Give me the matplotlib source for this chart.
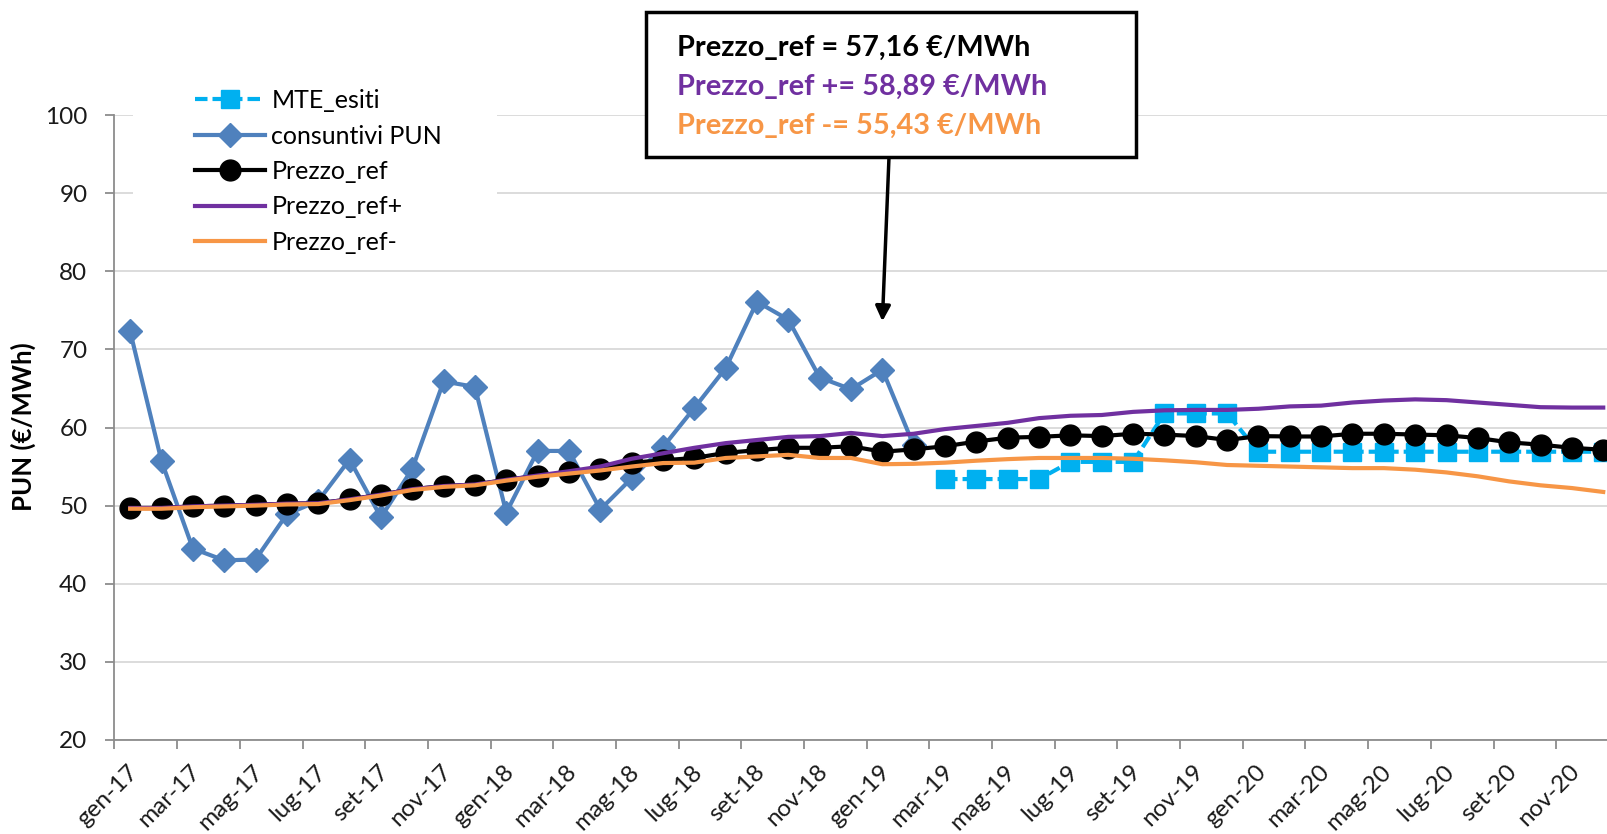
import matplotlib
matplotlib.use("Agg")
import matplotlib.pyplot as plt
from matplotlib.patches import Rectangle
from matplotlib.lines import Line2D
from matplotlib.transforms import ScaledTranslation
import numpy as np

plt.rcParams['font.family'] = ['Lato', 'DejaVu Sans']

# ---------------- data ----------------
mesi = ['gen', 'feb', 'mar', 'apr', 'mag', 'giu', 'lug', 'ago', 'set', 'ott', 'nov', 'dic']
anni = ['17', '18', '19', '20']
categories = [f"{m}-{a}" for a in anni for m in mesi]

consuntivi_pun = [72.3, 55.7, 44.5, 43.0, 43.1, 48.9, 50.6, 55.9, 48.5, 54.7, 65.9, 65.2,
                  49.1, 57.0, 57.0, 49.5, 53.5, 57.5, 62.5, 67.6, 76.1, 73.8, 66.4, 64.9,
                  67.4, 57.7] + [None] * 22

prezzo_ref = [49.7, 49.7, 49.9, 50.0, 50.1, 50.25, 50.3, 50.8, 51.4, 52.1, 52.5, 52.7,
              53.3, 53.8, 54.25, 54.7, 55.5, 55.8, 56.1, 56.75, 57.1, 57.4, 57.4, 57.6,
              56.9, 57.2, 57.6, 58.2, 58.7, 58.8, 59.0, 58.9, 59.2, 59.1, 58.9, 58.4,
              58.9, 58.85, 58.85, 59.2, 59.2, 59.1, 59.0, 58.65, 58.1, 57.8, 57.4, 57.15]

prezzo_ref_plus = [49.7, 49.7, 49.9, 50.0, 50.1, 50.25, 50.3, 50.8, 51.4, 52.1, 52.5, 52.7,
                   53.3, 53.85, 54.4, 55.0, 56.0, 56.7, 57.4, 58.0, 58.4, 58.8, 58.9, 59.3,
                   58.9, 59.2, 59.8, 60.2, 60.6, 61.2, 61.5, 61.6, 62.0, 62.2, 62.25, 62.25,
                   62.4, 62.7, 62.8, 63.2, 63.45, 63.6, 63.5, 63.2, 62.9, 62.6, 62.55, 62.55]

prezzo_ref_minus = [49.6, 49.6, 49.8, 49.9, 50.0, 50.15, 50.2, 50.7, 51.3, 52.0, 52.4, 52.6,
                    53.2, 53.7, 54.1, 54.5, 55.0, 55.45, 55.5, 56.1, 56.3, 56.5, 56.1, 56.1,
                    55.3, 55.35, 55.5, 55.75, 55.95, 56.1, 56.1, 56.1, 56.0, 55.8, 55.55, 55.2,
                    55.1, 55.0, 54.9, 54.8, 54.8, 54.6, 54.25, 53.75, 53.1, 52.6, 52.25, 51.75]

mte_esiti = [None] * 26 + [53.4, 53.4, 53.4, 53.4, 55.6, 55.6, 55.6, 61.8, 61.8, 61.8] + [56.9] * 12

yticks = [20, 30, 40, 50, 60, 70, 80, 90, 100]

annot_lines = ["Prezzo_ref = 57,16 €/MWh",
               "Prezzo_ref += 58,89 €/MWh",
               "Prezzo_ref -= 55,43 €/MWh"]

# ---------------- style ----------------
C_MTE = '#00B0F0'
C_PUN = '#4F81BD'
C_REF = '#000000'
C_PLUS = '#7030A0'
C_MINUS = '#F79646'
C_GRID = '#D9D9D9'
C_AXIS = '#8C8C8C'
FS_TICK = 17.5

W, H = 1608, 834
fig = plt.figure(figsize=(W / 100, H / 100), dpi=100)
ax = fig.add_axes([114.5 / W, 1 - 740 / H, 1504.4 / W, 625 / H])

x = np.arange(len(categories))


def arr(v):
    return np.array([np.nan if e is None else e for e in v], dtype=float)


ax.plot(x, arr(mte_esiti), color=C_MTE, lw=3.0, ls=(0, (3, 1.2)), marker='s', ms=13,
        mec=C_MTE, mfc=C_MTE, zorder=3, label='MTE_esiti')
ax.plot(x, arr(consuntivi_pun), color=C_PUN, lw=3.0, marker='D', ms=12,
        mec=C_PUN, mfc=C_PUN, zorder=4, label='consuntivi PUN')
ax.plot(x, arr(prezzo_ref), color=C_REF, lw=3.0, marker='o', ms=15,
        zorder=5, label='Prezzo_ref')
ax.plot(x, arr(prezzo_ref_plus), color=C_PLUS, lw=3.0, zorder=6, label='Prezzo_ref+')
ax.plot(x, arr(prezzo_ref_minus), color=C_MINUS, lw=3.0, zorder=7, label='Prezzo_ref-')

ax.set_xlim(-0.5, len(categories) - 0.5)
ax.set_ylim(20, 100)
ax.set_yticks(yticks)
ax.yaxis.grid(True, color=C_GRID, lw=1.3)
ax.set_axisbelow(True)

# x ticks: marks at category boundaries, labels at category centres
ax.set_xticks(np.arange(-0.5, len(categories), 2))
ax.set_xticklabels([])
ax.set_xticks(np.arange(0, len(categories), 2), minor=True)
ax.set_xticklabels(categories[::2], minor=True, rotation=45, ha='right',
                   va='top', rotation_mode='anchor', fontsize=FS_TICK, color='#1a1a1a')
ax.tick_params(axis='x', which='major', length=6.5, color=C_AXIS, width=1.3)
ax.tick_params(axis='x', which='minor', length=0, pad=15)
shift = ScaledTranslation(-3 / 100, 0, fig.dpi_scale_trans)
for lbl in ax.get_xticklabels(minor=True):
    lbl.set_transform(lbl.get_transform() + shift)
ax.tick_params(axis='y', length=6.5, color=C_AXIS, width=1.3, labelsize=FS_TICK,
               labelcolor='#1a1a1a', pad=13)

for s in ['top', 'right']:
    ax.spines[s].set_visible(False)
for s in ['left', 'bottom']:
    ax.spines[s].set_color(C_AXIS)
    ax.spines[s].set_linewidth(1.3)

fig.text(23.3 / W, 1 - 427 / H, 'PUN (€/MWh)', rotation=90, ha='center', va='center',
         fontsize=18.5, fontweight='bold')

# legend area (white background covering gridlines)
fig.patches.append(Rectangle((133 / W, 1 - 262 / H), (497 - 133) / W, (262 - 82) / H,
                             transform=fig.transFigure, facecolor='white',
                             edgecolor='none', zorder=1))
handles = [
    Line2D([], [], color=C_MTE, lw=3.0, ls=(0, (3, 1.2)), marker='s', ms=13),
    Line2D([], [], color=C_PUN, lw=3.0, marker='D', ms=12),
    Line2D([], [], color=C_REF, lw=3.0, marker='o', ms=15),
    Line2D([], [], color=C_PLUS, lw=3.0),
    Line2D([], [], color=C_MINUS, lw=3.0),
]
labels = ['MTE_esiti', 'consuntivi PUN', 'Prezzo_ref', 'Prezzo_ref+', 'Prezzo_ref-']
leg = fig.legend(handles, labels, loc='upper left', bbox_to_anchor=(195 / W, 1 - 89 / H),
                 frameon=False, fontsize=18, handlelength=2.8, handletextpad=0.25,
                 labelspacing=0.5, borderpad=0, borderaxespad=0, numpoints=1)
leg.set_zorder(6)

# annotation box
fig.patches.append(Rectangle((646 / W, 1 - 157 / H), (1136 - 646) / W, (157 - 12) / H,
                             transform=fig.transFigure, facecolor='white',
                             edgecolor='black', lw=2.5, zorder=8))
for txt, col, yc in zip(annot_lines, [C_REF, C_PLUS, C_MINUS], [48, 87, 126]):
    fig.text(677 / W, 1 - yc / H, txt, color=col, fontsize=20.8, fontweight='bold',
             ha='left', va='center', zorder=9)

ax.annotate('', xy=(24, 73.6), xycoords='data',
            xytext=(889 / W, 1 - 157 / H), textcoords='figure fraction',
            arrowprops=dict(arrowstyle='-|>,head_length=0.9,head_width=0.45',
                            color='black', lw=2.5, shrinkA=0, shrinkB=0),
            annotation_clip=False)

fig.savefig('out.png', dpi=100)
